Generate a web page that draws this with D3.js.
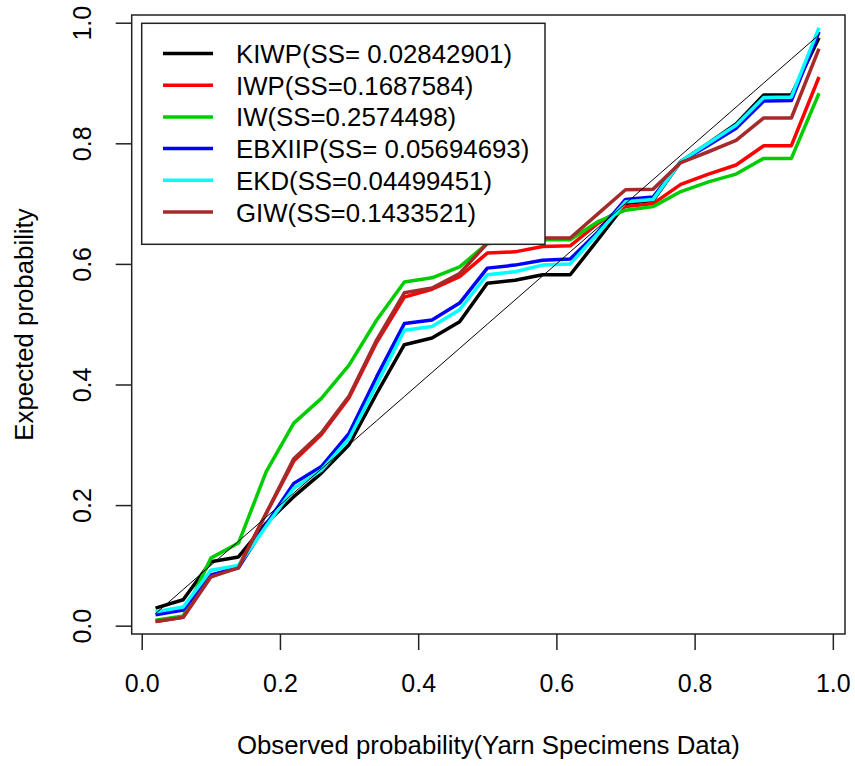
<!DOCTYPE html>
<html lang="en">
  <head>
    <meta charset="UTF-8" />
    <title>P-P plot</title>
    <style>
      body { margin: 0; background: #fff; }
      text { font-family: "Liberation Sans", Arial, sans-serif; fill: #000; }
    </style>
  </head>
  <body>
    <svg id="container" width="855" height="766"></svg>
  </body>
  <script src="https://cdn.jsdelivr.net/npm/d3@7"></script>
  <script>
    // observed probabilities (i - 0.5) / 25
    let observed = [0.02, 0.06, 0.10, 0.14, 0.18, 0.22, 0.26, 0.30, 0.34, 0.38, 0.42, 0.46, 0.50,
                    0.54, 0.58, 0.62, 0.66, 0.70, 0.74, 0.78, 0.82, 0.86, 0.90, 0.94, 0.98];

    let kiwp   = [0.029, 0.043, 0.106, 0.114, 0.170, 0.214, 0.253, 0.300, 0.385, 0.466, 0.477, 0.504, 0.568,
                  0.573, 0.582, 0.582, 0.640, 0.700, 0.705, 0.770, 0.800, 0.832, 0.880, 0.880, 0.975];
    let iwp    = [0.007, 0.014, 0.081, 0.098, 0.186, 0.273, 0.317, 0.378, 0.470, 0.545, 0.558, 0.579, 0.618,
                  0.620, 0.629, 0.630, 0.667, 0.695, 0.700, 0.732, 0.749, 0.764, 0.796, 0.796, 0.910];
    let iw     = [0.009, 0.016, 0.112, 0.137, 0.255, 0.336, 0.377, 0.432, 0.507, 0.570, 0.577, 0.595, 0.634,
                  0.636, 0.640, 0.640, 0.670, 0.689, 0.695, 0.720, 0.736, 0.749, 0.775, 0.775, 0.883];
    let ebxiip = [0.018, 0.026, 0.084, 0.096, 0.168, 0.236, 0.264, 0.319, 0.413, 0.501, 0.507, 0.535, 0.593,
                  0.598, 0.606, 0.608, 0.653, 0.707, 0.711, 0.770, 0.797, 0.825, 0.870, 0.871, 0.985];
    let ekd    = [0.023, 0.031, 0.092, 0.100, 0.165, 0.228, 0.258, 0.310, 0.400, 0.490, 0.496, 0.524, 0.582,
                  0.587, 0.598, 0.600, 0.650, 0.703, 0.707, 0.770, 0.800, 0.830, 0.876, 0.877, 0.992];
    let giw    = [0.007, 0.014, 0.081, 0.096, 0.186, 0.277, 0.320, 0.381, 0.474, 0.552, 0.560, 0.584, 0.634,
                  0.637, 0.643, 0.643, 0.683, 0.723, 0.724, 0.768, 0.786, 0.805, 0.842, 0.842, 0.957];

    let seriesNames = ["KIWP(SS= 0.02842901)", "IWP(SS=0.1687584)", "IW(SS=0.2574498)",
                       "EBXIIP(SS= 0.05694693)", "EKD(SS=0.04499451)", "GIW(SS=0.1433521)"];
    let seriesValues = [kiwp, iwp, iw, ebxiip, ekd, giw];
    let seriesColors = ["#000000", "#ff0000", "#00cd00", "#0000ff", "#00ffff", "#a52a2a"];
    let tickValues = [0, 0.2, 0.4, 0.6, 0.8, 1.0];

    let svg = d3.select("#container");
    let boxLeft = 131.7, boxRight = 845, boxTop = 15, boxBottom = 634;
    let fontSize = "25.8px";

    let x = d3.scaleLinear().domain([-0.0145, 1.0176]).range([boxLeft, boxRight]);
    let y = d3.scaleLinear().domain([-0.0138, 1.0128]).range([boxBottom, boxTop]);

    // x axis
    let xAxis = svg.append("g").attr("transform", `translate(0,${boxBottom})`)
      .call(d3.axisBottom(x).tickValues(tickValues).tickSize(16).tickFormat(d3.format(".1f")));
    xAxis.select(".domain").remove();
    xAxis.selectAll("line").attr("stroke", "#222").attr("stroke-width", 1.5);
    xAxis.selectAll("text").attr("y", 58).attr("dy", null)
      .style("font-size", "25px").style("font-family", "'Liberation Sans', Arial, sans-serif").attr("fill", "#000");

    // y axis
    let yAxis = svg.append("g").attr("transform", `translate(${boxLeft},0)`)
      .call(d3.axisLeft(y).tickValues(tickValues).tickSize(16).tickFormat(d3.format(".1f")));
    yAxis.select(".domain").remove();
    yAxis.selectAll("line").attr("stroke", "#222").attr("stroke-width", 1.5);
    yAxis.selectAll("text").attr("x", null).attr("dy", null)
      .attr("transform", "translate(-41,0) rotate(-90)").attr("text-anchor", "middle")
      .style("font-size", "25px").style("font-family", "'Liberation Sans', Arial, sans-serif").attr("fill", "#000");

    // plot box
    svg.append("rect").attr("x", boxLeft).attr("y", boxTop).attr("width", boxRight - boxLeft).attr("height", boxBottom - boxTop)
      .attr("fill", "none").attr("stroke", "#222").attr("stroke-width", 1.5);

    // series lines
    let line = d3.line().x((d, i) => x(observed[i])).y(d => y(d));
    svg.append("g").selectAll("path").data(seriesValues).enter().append("path")
      .attr("d", line).attr("fill", "none").attr("stroke", (d, i) => seriesColors[i])
      .attr("stroke-width", 3.5).attr("stroke-linejoin", "round");

    // reference diagonal
    svg.append("path").datum(observed).attr("d", d3.line().x(d => x(d)).y(d => y(d)))
      .attr("fill", "none").attr("stroke", "#000").attr("stroke-width", 1);

    // legend
    let legend = svg.append("g");
    legend.append("rect").attr("x", 141.7).attr("y", 23.3).attr("width", 403.3).attr("height", 221)
      .attr("fill", "#fff").attr("stroke", "#222").attr("stroke-width", 1.5);
    let rows = legend.selectAll("g.row").data(seriesNames).enter().append("g")
      .attr("transform", (d, i) => `translate(0,${53.5 + i * 31.7})`);
    rows.append("line").attr("x1", 163).attr("x2", 213).attr("y1", 0).attr("y2", 0)
      .attr("stroke", (d, i) => seriesColors[i]).attr("stroke-width", 3.5);
    rows.append("text").attr("x", 236).attr("y", 9.5).style("font-size", fontSize).text(d => d);

    // axis titles
    svg.append("text").attr("x", (boxLeft + boxRight) / 2).attr("y", 754).attr("text-anchor", "middle")
      .style("font-size", fontSize).text("Observed probability(Yarn Specimens Data)");
    svg.append("text").attr("transform", `translate(33,${(boxTop + boxBottom) / 2}) rotate(-90)`)
      .attr("text-anchor", "middle").style("font-size", fontSize).text("Expected probability");
  </script>
</html>
